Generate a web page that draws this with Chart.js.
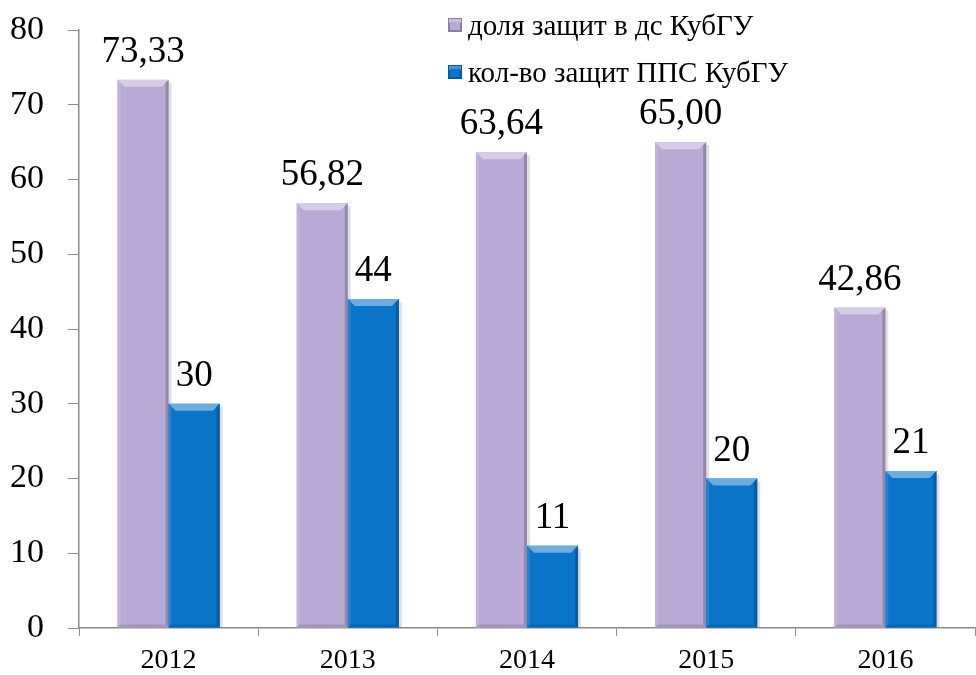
<!DOCTYPE html>
<html>
<head>
<meta charset="utf-8">
<script src="https://cdn.jsdelivr.net/npm/chart.js@4/dist/chart.umd.min.js"></script>
<style>
  html, body { margin: 0; padding: 0; background: #fff; }
  #wrap { position: relative; width: 976px; height: 675px; }
</style>
</head>
<body>
<div id="wrap"><canvas id="defChart"></canvas></div>
<script>
// === DATA ===
const years = ['2012', '2013', '2014', '2015', '2016'];
const shareKubSU = [73.33, 56.82, 63.64, 65.00, 42.86];
const staffDefenses = [30, 44, 11, 20, 21];
const yTicks = [0, 10, 20, 30, 40, 50, 60, 70, 80];

const seriesNames = ['доля защит в дс КубГУ', 'кол-во защит ППС КубГУ'];
const seriesColors = ['#B9AAD5', '#0A74C8'];
const FONT = '"Liberation Serif", "Times New Roman", serif';

// wanted plot box (px)
const PLOT_TOP = 30, PLOT_BOTTOM = 628;

function shade(hex, amt) {
    const n = parseInt(hex.slice(1), 16);
    let r = (n >> 16) & 255, g = (n >> 8) & 255, b = n & 255;
    const f = v => Math.max(0, Math.min(255, Math.round(amt > 0 ? v + (255 - v) * amt : v * (1 + amt))));
    return 'rgb(' + f(r) + ',' + f(g) + ',' + f(b) + ')';
}

// soft bevel on each bar, drawn from the bar elements
const bevelPlugin = {
    id: 'bevel',
    afterDatasetsDraw(chart) {
        const c = chart.ctx;
        chart.data.datasets.forEach((ds, i) => {
            const base = seriesColors[i];
            chart.getDatasetMeta(i).data.forEach(bar => {
                const l = bar.x - bar.width / 2, r = bar.x + bar.width / 2;
                const t = bar.y, b = bar.base, e = 7;
                c.save();
                // shadow on the right
                c.fillStyle = 'rgba(0,0,0,0.12)';
                c.fillRect(r, t + 3, 3, b - t - 3);
                c.fillStyle = base;
                c.fillRect(l, t, r - l, b - t);
                // top light face
                c.fillStyle = shade(base, 0.4);
                c.beginPath();
                c.moveTo(l, t); c.lineTo(r, t); c.lineTo(r - e, t + e); c.lineTo(l + e, t + e); c.closePath(); c.fill();
                // left light edge
                c.fillStyle = shade(base, 0.1);
                c.beginPath();
                c.moveTo(l, t); c.lineTo(l + 3, t + 3); c.lineTo(l + 3, b - 3); c.lineTo(l, b); c.closePath(); c.fill();
                // right dark edge
                c.fillStyle = shade(base, -0.2);
                c.beginPath();
                c.moveTo(r, t); c.lineTo(r - 3, t + 3); c.lineTo(r - 3, b - 3); c.lineTo(r, b); c.closePath(); c.fill();
                // bottom dark edge
                c.fillStyle = shade(base, -0.12);
                c.beginPath();
                c.moveTo(l, b); c.lineTo(l + 3, b - 3); c.lineTo(r - 3, b - 3); c.lineTo(r, b); c.closePath(); c.fill();
                c.restore();
            });
        });
    }
};

// value labels above bars
const valueLabels = {
    id: 'valueLabels',
    afterDatasetsDraw(chart) {
        const c = chart.ctx;
        c.save();
        c.font = '37px ' + FONT;
        c.fillStyle = '#000';
        c.textAlign = 'center';
        c.textBaseline = 'alphabetic';
        chart.data.datasets.forEach((ds, i) => {
            chart.getDatasetMeta(i).data.forEach((bar, j) => {
                const v = ds.data[j];
                const txt = i === 0 ? v.toFixed(2).replace('.', ',') : String(v);
                c.fillText(txt, bar.x, bar.y - 18);
            });
        });
        c.restore();
    }
};

// legend in the top right, over the plot
const cornerLegend = {
    id: 'cornerLegend',
    afterDraw(chart) {
        const c = chart.ctx;
        c.save();
        c.font = '29px ' + FONT;
        c.textBaseline = 'alphabetic';
        const rows = [25, 72];
        seriesNames.forEach((name, i) => {
            const y = rows[i];
            const x = 448;
            c.fillStyle = shade(seriesColors[i], -0.25);
            c.fillRect(x, y - 7, 14, 14);
            c.fillStyle = shade(seriesColors[i], 0.25);
            c.fillRect(x + 1, y - 6, 12, 4);
            c.fillStyle = seriesColors[i];
            c.fillRect(x + 2, y - 3, 10, 8);
            c.fillStyle = '#000';
            c.fillText(name, x + 20, y + 10);
        });
        c.restore();
    }
};

const chart = new Chart(document.getElementById('defChart'), {
    type: 'bar',
    data: {
        labels: years,
        datasets: [
            { label: seriesNames[0], data: shareKubSU, backgroundColor: 'rgba(0,0,0,0)' },
            { label: seriesNames[1], data: staffDefenses, backgroundColor: 'rgba(0,0,0,0)' }
        ]
    },
    options: {
        responsive: true,
        maintainAspectRatio: false,
        animation: false,
        layout: { padding: { top: PLOT_TOP, right: 1, left: 0, bottom: 0 } },
        datasets: { bar: { categoryPercentage: 0.57, barPercentage: 1.0 } },
        plugins: { legend: { display: false }, tooltip: { enabled: false } },
        scales: {
            x: {
                grid: { display: true, drawOnChartArea: false, drawTicks: true, tickLength: 8, color: '#8c8c8c', offset: true },
                border: { color: '#8c8c8c', width: 1.5 },
                ticks: { color: '#000', font: { family: FONT, size: 28 }, padding: 8 },
                afterFit(s) { s.height = 47; }
            },
            y: {
                min: 0, max: 80,
                afterBuildTicks(s) { s.ticks = yTicks.map(v => ({ value: v })); },
                grid: { display: true, drawOnChartArea: false, drawTicks: true, tickLength: 11, color: '#8c8c8c' },
                border: { color: '#8c8c8c', width: 1.5 },
                ticks: { color: '#000', font: { family: FONT, size: 34, lineHeight: 1 }, padding: 24 },
                afterFit(s) { s.width = 79; s.paddingTop = 0; s.paddingBottom = 0; }
            }
        }
    },
    plugins: [bevelPlugin, valueLabels, cornerLegend]
});

// nudge the layout padding until the plot box sits where the original has it
for (let k = 0; k < 4; k++) {
    const pad = chart.options.layout.padding;
    const dTop = PLOT_TOP - chart.chartArea.top;
    const dBot = chart.chartArea.bottom - PLOT_BOTTOM;
    if (Math.abs(dTop) < 0.5 && Math.abs(dBot) < 0.5) break;
    pad.top = Math.max(0, pad.top + dTop);
    pad.bottom = Math.max(0, pad.bottom + dBot);
    chart.update();
}
</script>
</body>
</html>
